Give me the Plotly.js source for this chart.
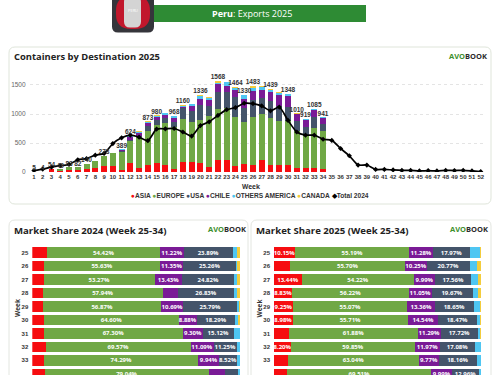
<!DOCTYPE html>
<html><head><meta charset="utf-8">
<script src="https://cdn.plot.ly/plotly-3.0.1.min.js"></script>
<style>html,body{margin:0;padding:0;background:#fff;overflow:hidden}#c{width:500px;height:375px}</style>
</head><body><div id="c"></div>
<script>
var weeks=[];for(var i=1;i<=52;i++)weeks.push(i);
var barWeeks=weeks.slice(0,34);
var asia=[0,0,54,20,30,30,50,65,100,105,35,155,75,120,155,125,57,170,170,150,85,205,205,100,135,114,200,127,127,121,75,75,74,60];
var europe=[5,4,0,29,50,50,85,120,175,215,310,385,520,585,655,715,720,740,690,755,880,875,890,850,734,826,808,809,757,751,625,550,684,654];
var usa=[0,0,0,0,3,2,5,5,3,5,15,20,30,90,80,95,85,190,195,245,165,295,280,345,239,308,262,283,256,249,179,157,197,122];
var chile=[0,0,0,0,0,0,0,0,0,5,25,45,45,50,50,55,75,20,90,115,107,135,100,115,150,152,149,159,184,196,114,110,106,94];
var others=[0,0,0,0,0,0,0,0,0,0,4,15,25,20,25,30,21,25,25,40,40,30,70,40,64,50,46,38,40,24,9,25,23,10];
var canada=[0,0,0,0,0,0,0,0,0,0,0,4,5,8,15,0,10,10,10,31,23,28,0,14,8,33,25,23,10,7,8,2,1,1];
var total2024=[25,50,85,110,130,210,230,290,320,490,590,635,600,540,740,745,750,690,620,800,865,975,1075,1110,1185,1180,1140,1055,1120,890,690,635,635,565,545,405,280,120,120,45,45,35,28,28,18,22,18,28,25,28,18,5];
var barLabels=[5,4,54,49,83,82,140,null,278,null,389,624,null,873,980,null,968,1160,null,1336,null,1568,null,1464,1330,1483,null,1439,null,1348,1010,919,1085,941];
var barTops=[5,4,54,49,83,82,140,190,278,330,389,624,700,873,980,1020,968,1160,1180,1336,1300,1568,1545,1464,1330,1483,1490,1439,1374,1348,1010,919,1085,941];

var shareWeeks=[25,26,27,28,29,30,31,32,33,34];
var a24=[7.2,5.8,5.6,5.0,5.2,5.8,5.4,6.6,5.7,6.0];
var e24=[54.42,55.63,53.27,57.94,56.87,64.60,67.30,69.57,74.29,79.04];
var c24=[11.22,11.35,13.43,7.3,10.69,8.88,9.30,11.09,9.94,7.7];
var u24=[23.89,25.26,24.82,26.83,25.79,18.29,15.12,11.25,8.52,6.5];
var o24=[1.6,0.7,1.5,1.3,0.8,1.5,2.88,1.3,1.5,0.7];
var n24=[1.67,1.26,1.38,1.63,0.65,0.93,0,0.19,0.05,0.06];
var a25=[10.15,7.7,13.44,8.83,9.25,8.98,7.4,8.2,6.8,6.4];
var e25=[55.19,55.70,54.22,56.22,55.07,55.71,61.88,59.85,63.04,69.51];
var c25=[11.28,10.25,9.99,11.05,13.36,14.54,11.29,11.97,9.77,9.99];
var u25=[17.97,20.77,17.56,19.67,18.65,18.47,17.72,17.08,18.16,12.96];
var o25=[4.8,3.6,3.1,2.6,2.9,1.8,0.9,2.7,2.1,1.0];
var n25=[0.61,1.98,1.69,1.63,0.77,0.5,0.81,0.2,0.13,0.14];

var RED='#f60d10',GREEN='#70a845',SLATE='#44546a',PURPLE='#7a1b96',BLUE='#4fc6f2',YELLOW='#f3cc3c';
var W=500,H=375;
function px(x){return x/W} function py(y){return 1-y/H}
function rr(x0,y0,x1,y1,r){
  return 'M'+px(x0+r)+' '+py(y0)+' L'+px(x1-r)+' '+py(y0)+' Q'+px(x1)+' '+py(y0)+' '+px(x1)+' '+py(y0+r)+
   ' L'+px(x1)+' '+py(y1-r)+' Q'+px(x1)+' '+py(y1)+' '+px(x1-r)+' '+py(y1)+' L'+px(x0+r)+' '+py(y1)+
   ' Q'+px(x0)+' '+py(y1)+' '+px(x0)+' '+py(y1-r)+' L'+px(x0)+' '+py(y0+r)+' Q'+px(x0)+' '+py(y0)+' '+px(x0+r)+' '+py(y0)+' Z';
}
function pshape(path,fill,line,lw){return {type:'path',xref:'paper',yref:'paper',path:path,fillcolor:fill||'rgba(0,0,0,0)',line:{color:line||'rgba(0,0,0,0)',width:lw||0},layer:'below'}}
function rect(x0,y0,x1,y1,fill){return {type:'rect',xref:'paper',yref:'paper',x0:px(x0),x1:px(x1),y0:py(y1),y1:py(y0),fillcolor:fill,line:{width:0},layer:'below'}}
function note(x,y,text,size,color,anchor,extra){var a={xref:'paper',yref:'paper',x:px(x),y:py(y),text:text,showarrow:false,xanchor:anchor||'left',yanchor:'middle',borderpad:0,font:{size:size,color:color||'#222'}};for(var k in extra)a[k]=extra[k];return a}

var traces=[];
function bar(name,vals,color){traces.push({type:'bar',name:name,x:barWeeks,y:vals,marker:{color:color,line:{width:0}},width:0.68,xaxis:'x',yaxis:'y'})}
bar('ASIA',asia,RED);bar('EUROPE',europe,GREEN);bar('USA',usa,SLATE);bar('CHILE',chile,PURPLE);bar('OTHERS AMERICA',others,BLUE);bar('CANADA',canada,YELLOW);
traces.push({type:'scatter',mode:'lines+markers',name:'Total 2024',x:weeks,y:total2024,line:{color:'#000',width:1.7,shape:'spline',smoothing:0.6},marker:{symbol:'diamond',size:4,color:'#000'},xaxis:'x',yaxis:'y'});
traces.push({type:'scatter',mode:'text',x:barWeeks,y:barTops,text:barLabels.map(function(v){return v===null?'':String(v)}),textposition:'top center',textfont:{size:6.5,color:'#333',family:'Liberation Sans, Arial',weight:700},xaxis:'x',yaxis:'y',showlegend:false,cliponaxis:false});

function share(vals,color,name,ax,ay){
  traces.push({type:'bar',orientation:'h',name:name,y:shareWeeks,x:vals,width:0.78,marker:{color:color,line:{width:0}},
    text:vals.map(function(v){return v>=8?v.toFixed(2)+'%':''}),textposition:'inside',insidetextanchor:'middle',textangle:0,constraintext:'none',
    insidetextfont:{size:6,color:'#fff',family:'Open Sans, Arial',weight:700},xaxis:ax,yaxis:ay});
}
[[a24,RED,'ASIA'],[e24,GREEN,'EUROPE'],[c24,PURPLE,'CHILE'],[u24,SLATE,'USA'],[o24,BLUE,'OTHERS AMERICA'],[n24,YELLOW,'CANADA']].forEach(function(s){share(s[0],s[1],s[2],'x2','y2')});
[[a25,RED,'ASIA'],[e25,GREEN,'EUROPE'],[c25,PURPLE,'CHILE'],[u25,SLATE,'USA'],[o25,BLUE,'OTHERS AMERICA'],[n25,YELLOW,'CANADA']].forEach(function(s){share(s[0],s[1],s[2],'x3','y3')});

var shapes=[
  pshape(rr(9,47,491,204,6),'#fff','#dfe5da',1),
  pshape(rr(9,220,248,385,6),'#fff','#e3e6e0',1),
  pshape(rr(251,220,491,385,6),'#fff','#e3e6e0',1),
  rect(153,5,366,22,'#2e8b34'),
  pshape(rr(112,-6,154,32.5,6),'#35353b'),
  pshape(rr(116,-4,150,29,15),'#c1172c'),
  pshape(rr(124,-4,141,27.5,6),'#d4d4d4')
];
function logo(x,y){return note(x,y,'<b><span style="color:#3f8f2e">AVO</span><span style="color:#2b2b2b">BOOK</span></b>',7.5,'#222','right')}
var F='Open Sans, Arial';
var leg=[[RED,'●','ASIA'],[GREEN,'●','EUROPE'],[SLATE,'●','USA'],[PURPLE,'●','CHILE'],[BLUE,'●','OTHERS AMERICA'],[YELLOW,'●','CANADA'],['#000','◆','Total 2024']];
var ann=[
  note(252,13.5,'<b>Peru</b>: Exports 2025',9,'#fff','center'),
  note(132.5,11,'PERU',4,'#fff','center'),
  note(12.5,56.7,'<b>Containers by Destination 2025</b>',9.4,'#222'),
  logo(488,55.5),
  note(13,230.7,'<b>Market Share 2024 (Week 25-34)</b>',9.6,'#222'),
  logo(247,229),
  note(254.5,230.7,'<b>Market Share 2025 (Week 25-34)</b>',9.6,'#222'),
  logo(489,229),
  note(251,186,'<b>Week</b>',6.5,'#333','center'),
  note(250,195.5,leg.map(function(l){return '<span style="color:'+l[0]+'">'+l[1]+'</span><b>'+l[2]+'</b>'}).join(' '),6.6,'#333','center',{font:{size:6.6,color:'#333',family:'Liberation Sans, Arial'}}),
  note(17,308,'<b>Week</b>',6.5,'#333','center',{textangle:-90}),
  note(258.5,308,'<b>Week</b>',6.5,'#333','center',{textangle:-90})
];
var tickF={size:6,color:'#333',family:'Liberation Sans, Arial',weight:700};
var layout={width:W,height:H,margin:{l:0,r:0,t:0,b:0},paper_bgcolor:'#fff',plot_bgcolor:'rgba(0,0,0,0)',showlegend:false,barmode:'stack',bargap:0.2,font:{family:F},
  xaxis:{domain:[px(29.6),px(485.1)],range:[0.5,52.5],tickmode:'array',tickvals:weeks,ticktext:weeks.map(String),tickangle:0,tickfont:tickF,showgrid:false,zeroline:false,showline:false,ticks:'',anchor:'y',fixedrange:true},
  yaxis:{domain:[py(172),py(68)],range:[0,1793],tickmode:'array',tickvals:[0,500,1000,1500],ticktext:['0','500','1000','1500'],tickfont:{size:6.5,color:'#666',family:'Liberation Sans, Arial'},ticklabelstandoff:3,showgrid:true,gridcolor:'#e4e4e4',griddash:'dot',gridwidth:1,zeroline:false,showline:false,ticks:'',anchor:'x',fixedrange:true},
  xaxis2:{domain:[px(32.3),px(240)],range:[0,100],visible:false,anchor:'y2',fixedrange:true},
  yaxis2:{domain:[0,py(245)],range:[34.09,24.43],tickmode:'array',tickvals:shareWeeks,ticktext:shareWeeks.map(String),tickfont:tickF,ticklabelstandoff:3,showgrid:false,zeroline:false,showline:false,ticks:'',anchor:'x2',fixedrange:true},
  xaxis3:{domain:[px(274),px(481.3)],range:[0,100],visible:false,anchor:'y3',fixedrange:true},
  yaxis3:{domain:[0,py(245)],range:[34.09,24.43],tickmode:'array',tickvals:shareWeeks,ticktext:shareWeeks.map(String),tickfont:tickF,ticklabelstandoff:3,showgrid:false,zeroline:false,showline:false,ticks:'',anchor:'x3',fixedrange:true},
  shapes:shapes,annotations:ann};
Plotly.newPlot('c',traces,layout,{displayModeBar:false,staticPlot:true});
</script></body></html>
